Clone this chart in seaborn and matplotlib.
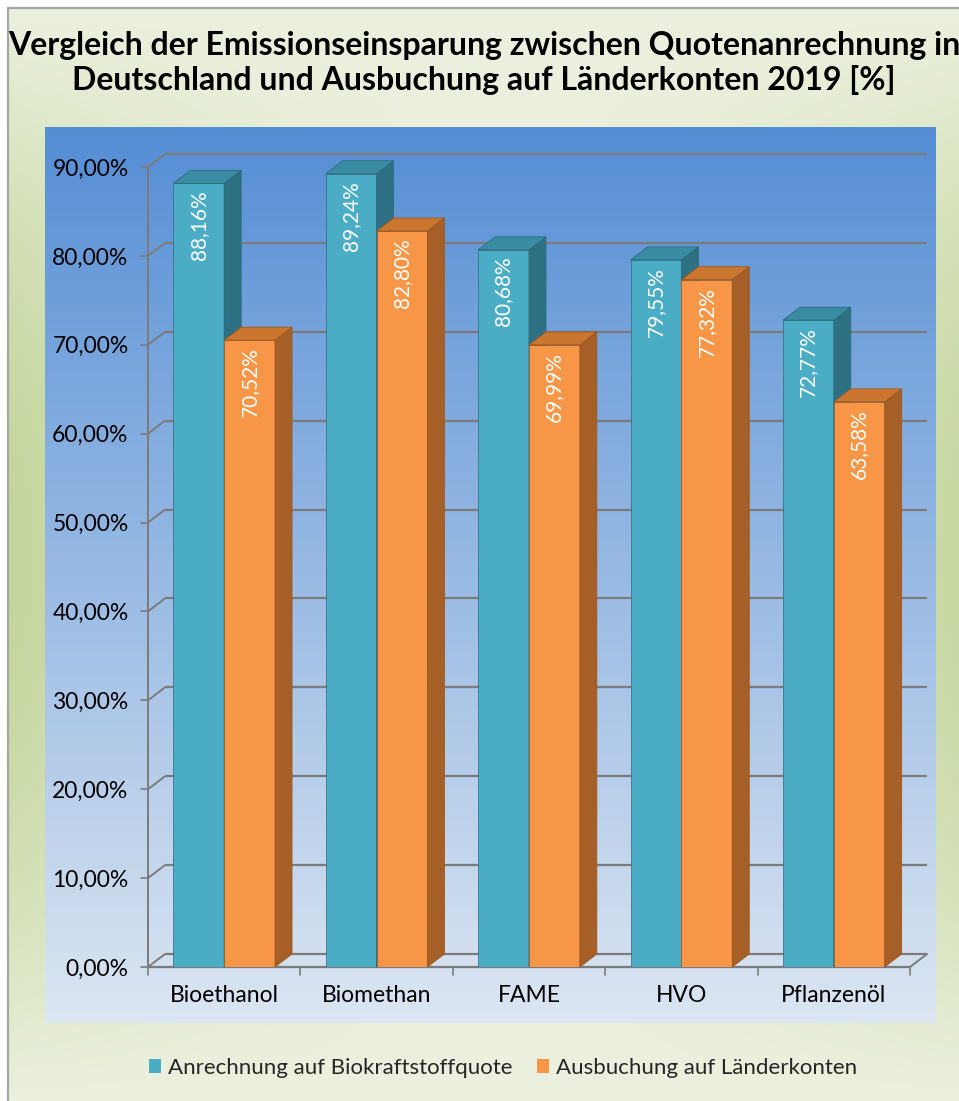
import numpy as np
import pandas as pd
import matplotlib
matplotlib.use("Agg")
import matplotlib.pyplot as plt
import seaborn as sns
from matplotlib.patches import Polygon, Patch
from matplotlib.colors import to_rgb

# ---- data -------------------------------------------------------------
categories = ["Bioethanol", "Biomethan", "FAME", "HVO", "Pflanzenöl"]
series_names = ["Anrechnung auf Biokraftstoffquote", "Ausbuchung auf Länderkonten"]
anrechnung = [88.16, 89.24, 80.68, 79.55, 72.77]
ausbuchung = [70.52, 82.80, 69.99, 77.32, 63.58]
y_ticks = [0, 10, 20, 30, 40, 50, 60, 70, 80, 90]
y_tick_labels = [f"{t:.2f}".replace(".", ",") + "%" for t in y_ticks]
title = ("Vergleich der Emissionseinsparung zwischen Quotenanrechnung in\n"
         "Deutschland und Ausbuchung auf Länderkonten 2019 [%]")

# ---- style ------------------------------------------------------------
sns.set_style("white")
plt.rcParams["font.family"] = ["Lato", "DejaVu Sans"]

front_cols = ["#4bacc6", "#f79646"]
top_cols = ["#3a8ca3", "#cb762f"]
side_cols = ["#2f7184", "#a55f27"]
edge_cols = ["#2c6a7c", "#9a5823"]
grid_col = "#7b7b7b"
text_size = 16.5

W, H = 959, 1101
fig = plt.figure(figsize=(W / 100, H / 100), dpi=100)


def px_rect(x0, y0, x1, y1):
    """pixel box (top-left origin) -> figure fraction rect"""
    return [x0 / W, 1 - y1 / H, (x1 - x0) / W, (y1 - y0) / H]


# ---- chart background: soft green, greener towards the side edges ----
bg = fig.add_axes([0, 0, 1, 1], zorder=0)
bg.set_xlim(0, W)
bg.set_ylim(H, 0)
bg.axis("off")
ny, nx = 220, 200
yy, xx = np.mgrid[0:ny, 0:nx]
u = (xx / (nx - 1)) * 2 - 1
v = (yy / (ny - 1)) * 2 - 1
f = np.clip(np.abs(u) ** 1.5 * (1 - np.abs(v) ** 1.8), 0, 1)
light = np.array(to_rgb("#ecf1df"))
green = np.array(to_rgb("#c3d59b"))
img = light[None, None, :] * (1 - f[..., None]) + green[None, None, :] * f[..., None]
bg.imshow(img, extent=(8, W + 30, H, 8), aspect="auto", interpolation="bilinear")
bg.plot([8, 8], [8, H], color="#a6a6a6", lw=1.6)
bg.plot([8, W], [8, 8], color="#a6a6a6", lw=1.6)

# ---- plot area: vertical blue gradient -------------------------------
pa = fig.add_axes(px_rect(45, 127, 936, 1023), zorder=1)
pa.axis("off")
top_blue = np.array(to_rgb("#558ed5"))
bot_blue = np.array(to_rgb("#dce6f2"))
t = np.linspace(0, 1, 256)[:, None]
grad = top_blue * (1 - t) + bot_blue * t
pa.imshow(grad[:, None, :], extent=(0, 1, 0, 1), aspect="auto")

# ---- main axes (front plane of the 3-D box) --------------------------
ax = fig.add_axes(px_rect(148, 167, 910, 967), zorder=2)
ax.patch.set_alpha(0)

df = pd.DataFrame({
    "Kraftstoff": categories * 2,
    "Serie": [series_names[0]] * len(categories) + [series_names[1]] * len(categories),
    "Wert": anrechnung + ausbuchung,
})
sns.barplot(data=df, x="Kraftstoff", y="Wert", hue="Serie",
            hue_order=series_names, palette=front_cols, saturation=1,
            width=0.667, errorbar=None, legend=False, linewidth=0, ax=ax)

ax.set_xlim(-0.5, 4.5)
ax.set_ylim(0, 90)

# depth offset of the 3-D box in data units
px_per_x = 762 / 5.0
px_per_y = 800 / 90.0
DX = 17 / px_per_x
DY = 13 / px_per_y

# walls: gridlines on the back wall, diagonals on the side wall
for yt in y_ticks:
    ax.plot([-0.5, -0.5 + DX], [yt, yt + DY], color=grid_col, lw=1.4,
            clip_on=False, zorder=1, solid_capstyle="butt")
    ax.plot([-0.5 + DX, 4.5 + DX], [yt + DY, yt + DY], color=grid_col,
            lw=1.6, clip_on=False, zorder=1, solid_capstyle="butt")
    ax.plot([-0.5 - 7 / px_per_x, -0.5], [yt, yt], color=grid_col, lw=1.2,
            clip_on=False, zorder=1)
# vertical axis and floor
ax.plot([-0.5, -0.5], [0, 90], color=grid_col, lw=1.4, clip_on=False, zorder=1)
ax.plot([-0.5, 4.5], [0, 0], color=grid_col, lw=1.6, clip_on=False, zorder=1)
ax.plot([4.5, 4.5 + DX], [0, DY], color=grid_col, lw=1.4, clip_on=False, zorder=1)
for xb in np.arange(-0.5, 4.6, 1.0):
    ax.plot([xb, xb], [0, -8 / px_per_y], color=grid_col, lw=1.2,
            clip_on=False, zorder=1)

# 3-D faces for each bar, drawn left to right
bars = sorted(ax.patches, key=lambda p: p.get_x())
for rank, p in enumerate(bars):
    fc = p.get_facecolor()[:3]
    s = 0 if np.allclose(fc, to_rgb(front_cols[0]), atol=0.02) else 1
    x0, w, h = p.get_x(), p.get_width(), p.get_height()
    z = 3 + rank * 0.01
    p.set_zorder(z)
    p.set_edgecolor(edge_cols[s])
    p.set_linewidth(0.5)
    top = Polygon([(x0, h), (x0 + w, h), (x0 + w + DX, h + DY), (x0 + DX, h + DY)],
                  closed=True, facecolor=top_cols[s], edgecolor=edge_cols[s],
                  lw=0.6, clip_on=False, zorder=z)
    side = Polygon([(x0 + w, 0), (x0 + w + DX, DY), (x0 + w + DX, h + DY), (x0 + w, h)],
                   closed=True, facecolor=side_cols[s], edgecolor=edge_cols[s],
                   lw=0.6, clip_on=False, zorder=z)
    ax.add_patch(side)
    ax.add_patch(top)
    label = f"{h:.2f}".replace(".", ",") + "%"
    ax.text(x0 + w / 2, h - 7 / px_per_y, label, rotation=90, ha="center",
            va="top", color="white", fontsize=15, zorder=z + 0.005)

# ticks and labels
ax.set_yticks(y_ticks)
ax.set_yticklabels(y_tick_labels)
ax.set_xticks(range(len(categories)))
ax.set_xticklabels(categories)
ax.tick_params(axis="y", length=0, pad=14, labelsize=text_size, labelcolor="black")
ax.tick_params(axis="x", length=0, pad=13, labelsize=text_size, labelcolor="black")
ax.set_xlabel("")
ax.set_ylabel("")
for sp in ax.spines.values():
    sp.set_visible(False)

# title
fig.text(484 / W, 1 - 63 / H, title, ha="center", va="center", fontsize=23,
         fontweight="bold", color="black", linespacing=1.22, zorder=5)

# legend
handles = [Patch(facecolor=front_cols[i], edgecolor="none", label=series_names[i])
           for i in range(2)]
leg = fig.legend(handles=handles, loc="center", bbox_to_anchor=(503 / W, 1 - 1068 / H),
                 ncol=2, frameon=False, fontsize=16, handlelength=0.55,
                 handleheight=0.55, handletextpad=0.3, columnspacing=1.1)

fig.savefig("out.png", dpi=100)
